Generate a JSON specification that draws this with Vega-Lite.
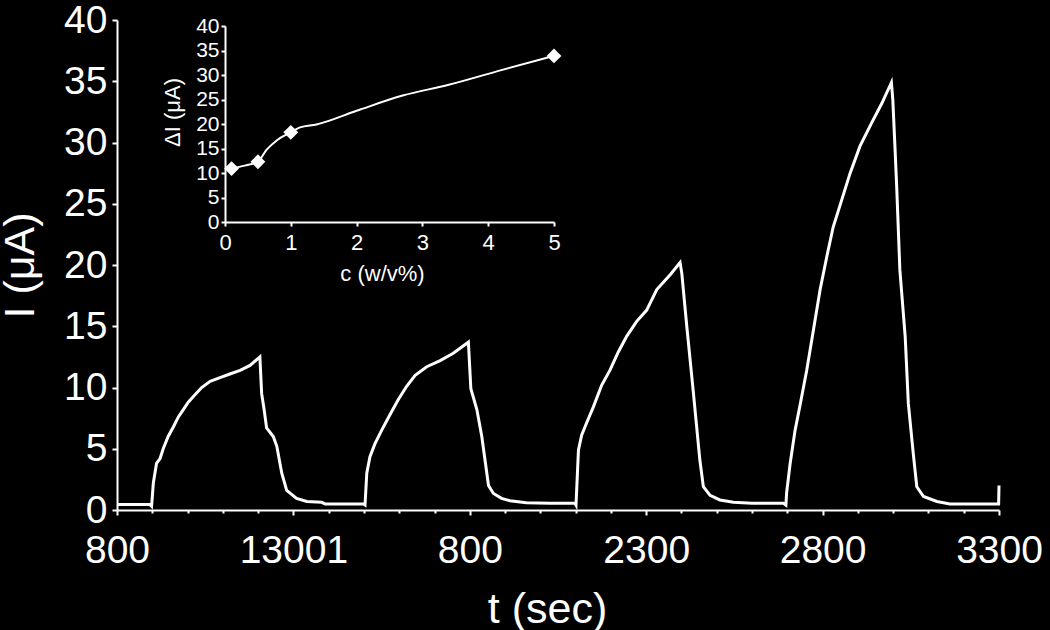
{
  "$schema": "https://vega.github.io/schema/vega-lite/v6.json",
  "width": 882,
  "height": 490,
  "autosize": "none",
  "padding": {"left": 117, "top": 20, "right": 51, "bottom": 120},
  "background": "black",
  "config": {
    "view": {"stroke": null},
    "font": "Liberation Sans",
    "axis": {
      "domainColor": "white", "tickColor": "white", "labelColor": "white", "titleColor": "white",
      "grid": false, "labelFont": "Liberation Sans", "titleFont": "Liberation Sans", "titleFontWeight": "normal",
      "domainWidth": 2, "tickWidth": 2
    }
  },
  "datasets": {
    "trace": [
      {"t": 800, "I": 0.45}, {"t": 893, "I": 0.45}, {"t": 898, "I": 0.3}, {"t": 903, "I": 2.2},
      {"t": 912, "I": 3.8}, {"t": 922, "I": 4.2}, {"t": 931, "I": 5.0}, {"t": 945, "I": 6.0},
      {"t": 960, "I": 6.8}, {"t": 974, "I": 7.6}, {"t": 988, "I": 8.2}, {"t": 1002, "I": 8.8},
      {"t": 1021, "I": 9.4}, {"t": 1040, "I": 10.0}, {"t": 1064, "I": 10.5}, {"t": 1092, "I": 10.8},
      {"t": 1120, "I": 11.1}, {"t": 1149, "I": 11.4}, {"t": 1177, "I": 11.8}, {"t": 1205, "I": 12.5},
      {"t": 1210, "I": 9.5}, {"t": 1217, "I": 8.2}, {"t": 1224, "I": 6.7}, {"t": 1243, "I": 6.0},
      {"t": 1253, "I": 5.2}, {"t": 1267, "I": 3.0}, {"t": 1281, "I": 1.6}, {"t": 1309, "I": 0.95},
      {"t": 1338, "I": 0.7}, {"t": 1380, "I": 0.63}, {"t": 1390, "I": 0.5}, {"t": 1498, "I": 0.5},
      {"t": 1503, "I": 0.4}, {"t": 1508, "I": 3.0}, {"t": 1517, "I": 4.35}, {"t": 1531, "I": 5.4},
      {"t": 1550, "I": 6.5}, {"t": 1574, "I": 7.8}, {"t": 1597, "I": 9.0}, {"t": 1621, "I": 10.1},
      {"t": 1645, "I": 11.0}, {"t": 1678, "I": 11.7}, {"t": 1716, "I": 12.2}, {"t": 1753, "I": 12.8},
      {"t": 1796, "I": 13.7}, {"t": 1803, "I": 9.9}, {"t": 1820, "I": 8.2}, {"t": 1834, "I": 6.0},
      {"t": 1853, "I": 2.0}, {"t": 1867, "I": 1.35}, {"t": 1890, "I": 0.95}, {"t": 1914, "I": 0.76},
      {"t": 1960, "I": 0.6}, {"t": 2027, "I": 0.55}, {"t": 2098, "I": 0.55}, {"t": 2101, "I": 0.4},
      {"t": 2108, "I": 4.9}, {"t": 2117, "I": 6.1}, {"t": 2131, "I": 7.1}, {"t": 2150, "I": 8.4},
      {"t": 2174, "I": 10.2}, {"t": 2197, "I": 11.4}, {"t": 2221, "I": 12.9}, {"t": 2245, "I": 14.2},
      {"t": 2273, "I": 15.4}, {"t": 2301, "I": 16.3}, {"t": 2330, "I": 18.0}, {"t": 2368, "I": 19.2},
      {"t": 2396, "I": 20.2}, {"t": 2401, "I": 19.3}, {"t": 2415, "I": 15.0}, {"t": 2434, "I": 9.5},
      {"t": 2452, "I": 4.1}, {"t": 2462, "I": 1.9}, {"t": 2481, "I": 1.2}, {"t": 2509, "I": 0.82},
      {"t": 2547, "I": 0.63}, {"t": 2600, "I": 0.55}, {"t": 2689, "I": 0.55}, {"t": 2696, "I": 0.4},
      {"t": 2698, "I": 1.4}, {"t": 2708, "I": 3.8}, {"t": 2722, "I": 6.5}, {"t": 2737, "I": 8.7},
      {"t": 2755, "I": 11.4}, {"t": 2774, "I": 14.7}, {"t": 2793, "I": 18.0}, {"t": 2812, "I": 20.7},
      {"t": 2830, "I": 23.1}, {"t": 2854, "I": 25.3}, {"t": 2878, "I": 27.5}, {"t": 2906, "I": 29.7},
      {"t": 2939, "I": 31.6}, {"t": 2968, "I": 33.2}, {"t": 2995, "I": 34.9}, {"t": 2999, "I": 33.5},
      {"t": 3005, "I": 29.7}, {"t": 3010, "I": 26.4}, {"t": 3019, "I": 19.6}, {"t": 3034, "I": 14.2},
      {"t": 3043, "I": 8.7}, {"t": 3057, "I": 4.6}, {"t": 3067, "I": 1.9}, {"t": 3086, "I": 1.1},
      {"t": 3124, "I": 0.7}, {"t": 3161, "I": 0.5}, {"t": 3294, "I": 0.5},
      {"t": 3299, "I": 0.5}, {"t": 3300, "I": 2.0}
    ],
    "insetCurve": [
      {"c": 0.1, "dI": 10.9}, {"c": 0.3, "dI": 11.5}, {"c": 0.5, "dI": 12.3}, {"c": 0.63, "dI": 14.7},
      {"c": 0.79, "dI": 16.7}, {"c": 1.0, "dI": 18.3}, {"c": 1.14, "dI": 19.3}, {"c": 1.39, "dI": 19.9},
      {"c": 2.0, "dI": 22.7}, {"c": 2.7, "dI": 25.8}, {"c": 3.4, "dI": 28.0}, {"c": 4.2, "dI": 31.0},
      {"c": 5.0, "dI": 33.9}
    ],
    "insetPoints": [
      {"c": 0.1, "dI": 10.9}, {"c": 0.5, "dI": 12.3}, {"c": 1.0, "dI": 18.3}, {"c": 5.0, "dI": 33.9}
    ]
  },
  "layer": [
    {
      "data": {"name": "trace"},
      "mark": {"type": "line", "color": "white", "strokeWidth": 3, "interpolate": "linear"},
      "encoding": {
        "x": {
          "field": "t", "type": "quantitative",
          "scale": {"domain": [800, 3300], "nice": false, "zero": false},
          "axis": {
            "orient": "bottom",
            "values": [800, 900, 1000, 1100, 1200, 1300, 1400, 1500, 1600, 1700, 1800, 1900, 2000, 2100, 2200, 2300, 2400, 2500, 2600, 2700, 2800, 2900, 3000, 3100, 3200, 3300],
            "format": "d",
            "labelExpr": "datum.value == 800 ? '800' : datum.value == 1300 ? '13001' : datum.value == 1800 ? '800' : ((datum.value - 800) % 500 == 0 ? datum.label : '')",
            "tickSize": {"condition": {"test": "(datum.value - 800) % 500 == 0", "value": 5}, "value": 3},
            "labelFontSize": 39, "labelPadding": 16, "labelOverlap": false, "labelFlush": false,
            "title": "t (sec)", "titleFontSize": 43, "titlePadding": 18, "titleX": 430
          }
        },
        "y": {
          "field": "I", "type": "quantitative",
          "scale": {"domain": [0, 40], "nice": false},
          "axis": {
            "orient": "left",
            "values": [0, 5, 10, 15, 20, 25, 30, 35, 40],
            "tickSize": 5, "labelFontSize": 39, "labelPadding": 5,
            "title": "I (μA)", "titleFontSize": 43, "titlePadding": 21
          }
        }
      }
    },
    {
      "encoding": {
        "x": {
          "field": "c", "type": "quantitative",
          "scale": {"domain": [0, 5], "nice": false, "range": [108, 437]},
          "axis": {
            "orient": "bottom", "offset": -288,
            "values": [0, 1, 2, 3, 4, 5], "format": "d",
            "tickSize": 4, "labelFontSize": 22, "labelPadding": 6, "labelFlush": false,
            "title": "c (w/v%)", "titleFontSize": 22, "titlePadding": 10, "titleX": 265
          }
        },
        "y": {
          "field": "dI", "type": "quantitative",
          "scale": {"domain": [0, 40], "nice": false, "range": [202, 6]},
          "axis": {
            "orient": "left", "offset": -108,
            "values": [0, 5, 10, 15, 20, 25, 30, 35, 40],
            "tickSize": 4, "labelFontSize": 21, "labelPadding": 2, "labelOverlap": false,
            "title": "ΔI (μA)", "titleFontSize": 22, "titlePadding": 11, "titleY": 92
          }
        }
      },
      "layer": [
        {
          "data": {"name": "insetCurve"},
          "mark": {"type": "line", "color": "white", "strokeWidth": 2, "interpolate": "monotone"}
        },
        {
          "data": {"name": "insetPoints"},
          "mark": {"type": "point", "shape": "diamond", "filled": true, "color": "white", "opacity": 1, "size": 220}
        }
      ]
    }
  ],
  "resolve": {
    "scale": {"x": "independent", "y": "independent"},
    "axis": {"x": "independent", "y": "independent"}
  }
}
